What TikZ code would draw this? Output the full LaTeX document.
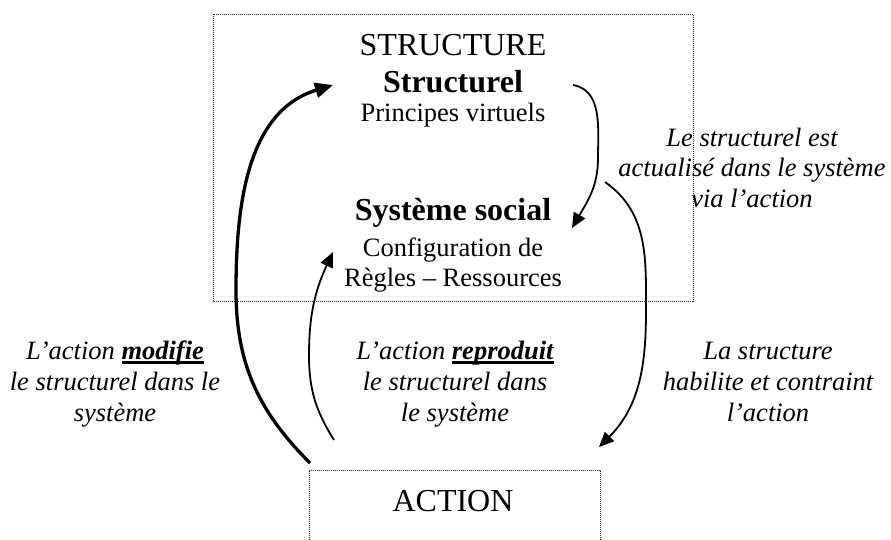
\documentclass[tikz,border=0pt]{standalone}
\usepackage{fontspec}
\setmainfont{Liberation Serif}
\usetikzlibrary{arrows.meta}
\newcommand{\ulbf}[1]{\setbox0\hbox{#1}\rlap{\rule[-4.5pt]{\wd0}{2.4pt}}\box0}
\tikzset{
  big/.style={anchor=base, inner sep=0pt, font=\fontsize{32}{36}\selectfont},
  bigbf/.style={anchor=base, inner sep=0pt, font=\fontsize{32}{36}\selectfont\bfseries},
  body/.style={anchor=base, inner sep=0pt, font=\fontsize{26.5}{31}\selectfont},
  lab/.style={anchor=base, inner sep=0pt, font=\fontsize{26.5}{31}\selectfont\itshape},
  dotbox/.style={draw=black!85, line width=1pt, dash pattern=on 1pt off 1pt},
  thickarrow/.style={line width=3.3pt, -{Triangle[length=18pt,width=15pt]}},
  thinarrow/.style={line width=1.8pt, -{Triangle[length=15pt,width=13pt]}},
}
\begin{document}
\begin{tikzpicture}[x=1pt,y=1pt]
\useasboundingbox (0,0) rectangle (891,-539);
% boxes
\draw[dotbox] (213,-14) rectangle (693,-301);
\draw[dotbox] (309,-560) -- (309,-470) -- (600,-470) -- (600,-560);
% structure box texts
\node[big]   (structure) at (453,-55)  {STRUCTURE};
\node[bigbf] (structurel) at (453,-92) {Structurel};
\node[body]  (principes) at (453,-121) {Principes virtuels};
\node[bigbf] (systeme) at (453,-220) {Système social};
\node[body]  (config) at (453,-256) {Configuration de};
\node[body]  (regles) at (453,-286) {Règles – Ressources};
\node[big]   (action) at (453,-511) {ACTION};
% labels
\node[lab] (r1) at (752,-146) {Le structurel est};
\node[lab] (r2) at (752,-176) {actualisé dans le système};
\node[lab] (r3) at (752,-207) {via l’action};
\node[lab] (l1) at (115,-359) {L’action \ulbf{\bfseries modifie}};
\node[lab] (l2) at (115,-390) {le structurel dans le};
\node[lab] (l3) at (115,-421) {système};
\node[lab] (m1) at (455,-359) {L’action \ulbf{\bfseries reproduit}};
\node[lab] (m2) at (455,-390) {le structurel dans};
\node[lab] (m3) at (455,-421) {le système};
\node[lab] (b1) at (768,-359) {La structure};
\node[lab] (b2) at (768,-390) {habilite et contraint};
\node[lab] (b3) at (768,-421) {l’action};
% connector ends
\coordinate (modS) at (310,-463);
\coordinate (modM) at (236,-290);
\coordinate (modE) at (333,-85);
\coordinate (repS) at (334,-440);
\coordinate (repM) at (309,-355);
\coordinate (repE) at (333,-252);
\coordinate (actS) at (573,-85);
\coordinate (actM) at (598,-158);
\coordinate (actE) at (572,-228);
\coordinate (habS) at (605,-182);
\coordinate (habM) at (646,-312);
\coordinate (habE) at (599,-447);
% arrows
\draw[thickarrow] (modS) to[out=135,in=-90] (modM) to[out=90,in=197] (modE);
\draw[thinarrow] (repS) to[out=122,in=-90] (repM) to[out=90,in=245] (repE);
\draw[thinarrow] (actS) to[out=-10,in=90] (actM) to[out=-90,in=60] (actE);
\draw[thinarrow] (habS) to[out=-35,in=90] (habM) to[out=-90,in=45] (habE);
\end{tikzpicture}
\end{document}
